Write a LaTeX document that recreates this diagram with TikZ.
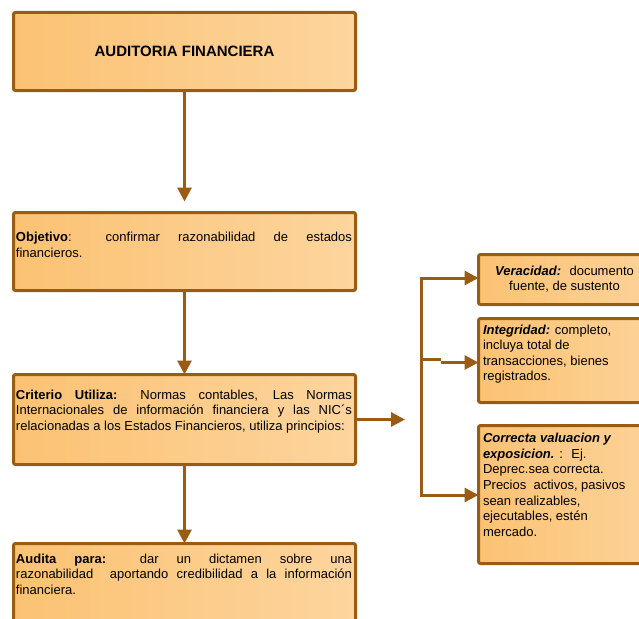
\documentclass[tikz,border=0pt]{standalone}
\usepackage{fontspec}
\setmainfont{Liberation Sans}
\usetikzlibrary{arrows.meta}
\hyphenpenalty=10000
\exhyphenpenalty=10000
\definecolor{brd}{RGB}{154,92,18}
\definecolor{fillL}{RGB}{251,194,115}
\definecolor{fillR}{RGB}{253,213,158}
\begin{document}
\begin{tikzpicture}[x=1pt,y=-1pt,
  box/.style={draw=brd, line width=3pt, rounded corners=2pt, left color=fillL, right color=fillR, outer sep=0pt, inner sep=0pt, anchor=north west},
  txt/.style={inner sep=0pt, outer sep=0pt, font=\fontsize{13}{15.6}\selectfont},
  conn/.style={draw=brd, line width=3pt},
  tip/.style={-{Triangle[length=14pt,width=14pt]}},
  tips/.style={{Triangle[length=14pt,width=14pt]}-{Triangle[length=14pt,width=14pt]}}
]
\useasboundingbox (0,0) rectangle (639,618);
% boxes
\node[box, minimum width=342pt, minimum height=78pt] (b1) at (13.5,12.5) {};
\node[box, minimum width=342pt, minimum height=78pt] (b2) at (13.5,212.5) {};
\node[box, minimum width=342pt, minimum height=90pt] (b3) at (13.5,374.5) {};
\node[box, minimum width=342pt, minimum height=100pt] (b4) at (13.5,543.5) {};
\node[box, minimum width=200pt, minimum height=50pt] (bA) at (478.5,254.5) {};
\node[box, minimum width=200pt, minimum height=84pt] (bB) at (478.5,318.5) {};
\node[box, minimum width=200pt, minimum height=138pt] (bC) at (478.5,425.5) {};
% texts
\node[txt, font=\fontsize{15}{18}\selectfont\bfseries, anchor=base] (t1) at (184.5,56.7) {AUDITORIA FINANCIERA};
\node[txt, text width=336pt, align=justify, anchor=north west] (t2) at (16,231.7)
  {\rule{0pt}{10pt}\textbf{Objetivo}:   confirmar razonabilidad de estados\linebreak financieros.};
\node[txt, text width=336pt, align=justify, anchor=north west] (t3) at (16,389.3)
  {\rule{0pt}{10pt}\textbf{Criterio Utiliza:} Normas contables, Las Normas\linebreak Internacionales de información financiera y las NIC´s\linebreak relacionadas a los Estados Financieros, utiliza principios:};
\node[txt, text width=336pt, align=justify, anchor=north west] (t4) at (16,553.3)
  {\rule{0pt}{10pt}\textbf{Audita para:} dar un dictamen sobre una\linebreak razonabilidad~ aportando credibilidad a la información\linebreak financiera.};
\node[txt, align=center, anchor=north] (tA) at (564.5,265.3)
  {\rule{0pt}{10pt}\textbf{\textit{Veracidad:}}~ documento\\fuente, de sustento};
\node[txt, align=left, anchor=north west] (tB) at (483,324)
  {\rule{0pt}{10pt}\textbf{\textit{Integridad:}} completo,\\incluya total de\\transacciones, bienes\\registrados.};
\node[txt, align=left, anchor=north west] (tC) at (483,432.7)
  {\rule{0pt}{10pt}\textbf{\textit{Correcta valuacion y}}\\\textbf{\textit{exposicion.}} :~ Ej.\\Deprec.sea correcta.\\Precios~ activos, pasivos\\sean realizables,\\ejecutables, estén\\mercado.};
% connectors
\draw[conn, tip, shorten >=11pt] (b1.south) -- (b2.north);
\draw[conn, tip] (b2.south) -- (b3.north);
\draw[conn, tip] (b3.south) -- (b4.north);
\coordinate (e3) at (405,419.5);
\draw[conn, tip] (b3.east) -- (e3);
\coordinate (jA) at (421,278);
\coordinate (jC) at (421,495);
\draw[conn, tips] (bA.west |- jA) -- (jA) -- (jC) -- (bC.west |- jC);
\coordinate (jB) at (421,359);
\coordinate (kB) at (441,359);
\coordinate (kB2) at (441,362.5);
\draw[conn] (jB) -- (kB);
\draw[conn, tip] (kB2) -- (bB.west |- kB2);
\end{tikzpicture}
\end{document}
